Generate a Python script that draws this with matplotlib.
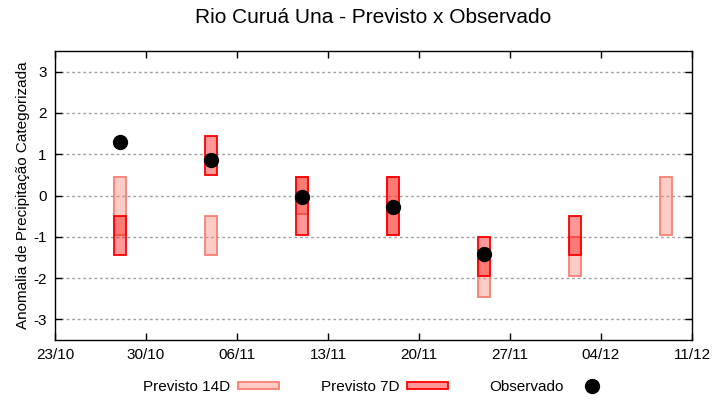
import matplotlib
matplotlib.use("Agg")
import matplotlib.pyplot as plt
import matplotlib.dates as mdates
from matplotlib.patches import Patch
from matplotlib.lines import Line2D
from datetime import datetime

plt.rcParams['font.family'] = ['Liberation Sans', 'DejaVu Sans']

# ---- data ----
dates = ["28/10", "04/11", "11/11", "18/11", "25/11", "02/12", "09/12"]
year_of = {"10": 2023, "11": 2023, "12": 2023}
p14_low = [-0.95, -1.45, -0.45, -0.95, -2.45, -1.95, -0.95]
p14_high = [0.45, -0.5, 0.45, 0.45, -1.45, -1.0, 0.45]
p7_low = [-1.45, 0.5, -0.95, -0.95, -1.95, -1.45, None]
p7_high = [-0.5, 1.45, 0.45, 0.45, -1.0, -0.5, None]
obs = [1.29, 0.85, -0.03, -0.27, -1.41, None, None]
xtick_labels = ["23/10", "30/10", "06/11", "13/11", "20/11", "27/11", "04/12", "11/12"]
yticks = [-3, -2, -1, 0, 1, 2, 3]

def to_dt(s):
    d, m = s.split("/")
    return datetime(year_of[m], int(m), int(d))

xd = [to_dt(s) for s in dates]
xt = [to_dt(s) for s in xtick_labels]

fig = plt.figure(figsize=(7.2, 4.0), dpi=100)
ax = fig.add_axes([55/720, 1-340/400, (692-55)/720, (340-51)/400])

x_num = mdates.date2num(xd)
w = 0.92
c14_face = (250/255, 128/255, 114/255, 0.4)
c7_face = (1.0, 0.0, 0.0, 0.4)

for xi, lo, hi in zip(x_num, p14_low, p14_high):
    if lo is None:
        continue
    ax.bar(xi, hi - lo, bottom=lo, width=w, facecolor=c14_face,
           edgecolor='salmon', linewidth=1.3, zorder=2)
for xi, lo, hi in zip(x_num, p7_low, p7_high):
    if lo is None:
        continue
    ax.bar(xi, hi - lo, bottom=lo, width=w, facecolor=c7_face,
           edgecolor='red', linewidth=1.3, zorder=3)
ox = [xi for xi, v in zip(x_num, obs) if v is not None]
oy = [v for v in obs if v is not None]
ax.plot(ox, oy, 'o', color='black', markersize=10, zorder=5, linestyle='none')

ax.set_ylim(-3.5, 3.5)
ax.set_xlim(mdates.date2num(xt[0]), mdates.date2num(xt[-1]))
ax.set_yticks(yticks)
ax.set_yticklabels([str(v) for v in yticks])
ax.set_xticks(mdates.date2num(xt))
ax.set_xticklabels(xtick_labels)
ax.tick_params(direction='in', length=5, width=1, labelsize=11,
               top=True, right=True, colors='black', pad=6)
ax.grid(axis='y', color='#a0a0a0', linestyle=(0, (2, 2)), linewidth=1)
ax.set_axisbelow(True)
for s in ax.spines.values():
    s.set_linewidth(1)

ax.set_ylabel("Anomalia de Precipitação Categorizada", fontsize=11, labelpad=2)
ax.set_title("Rio Curuá Una - Previsto x Observado", fontsize=15, pad=20)

handles = [
    Patch(facecolor=c14_face, edgecolor='salmon', linewidth=1.3),
    Patch(facecolor=c7_face, edgecolor='red', linewidth=1.3),
    Line2D([], [], marker='o', color='black', linestyle='none', markersize=10),
]
fig.legend(handles, ["Previsto 14D", "Previsto 7D", "Observado"], ncol=3,
           loc='center', bbox_to_anchor=(0.525, 1-387/400), frameon=False,
           markerfirst=False, fontsize=11, handlelength=2.7, handleheight=0.4,
           handletextpad=0.5, columnspacing=2.7)

fig.savefig("out.png", dpi=100)
